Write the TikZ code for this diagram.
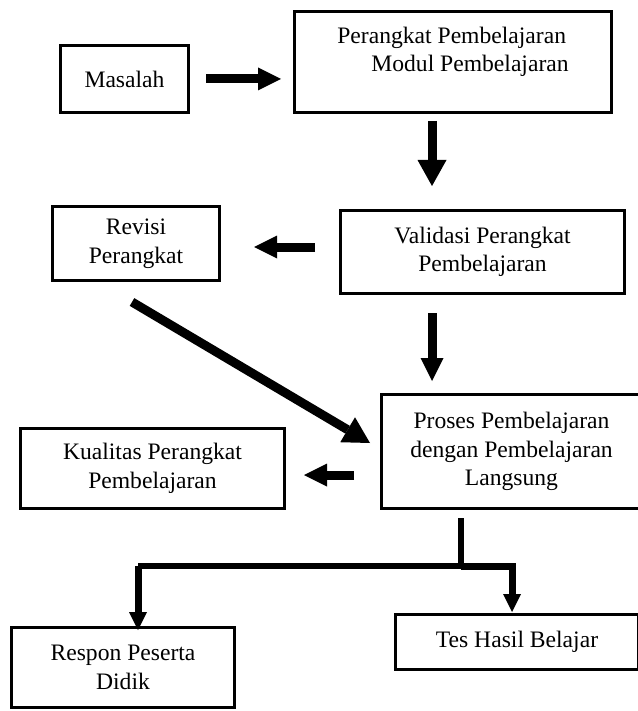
\documentclass[tikz,border=0pt]{standalone}
\usepackage{fontspec}
\setmainfont{Liberation Serif}
\usetikzlibrary{arrows.meta}
\begin{document}
\begin{tikzpicture}[x=1pt,y=-1pt,
  box/.style={draw, line width=3pt, rectangle, inner sep=0pt, align=center,
    font=\fontsize{23.6}{28.5}\selectfont},
  arr/.style={line width=9pt, -{Triangle[length=23pt,width=23pt,line width=0pt]}},
  bigarr/.style={line width=9pt, -{Triangle[length=26pt,width=29pt,line width=0pt]}},
  thinarr/.style={line width=7pt, -{Triangle[length=18pt,width=18pt,line width=0pt]}},
  bar/.style={line width=6.5pt}]
\useasboundingbox (0,0) rectangle (637,711);

\node[box, minimum width=128pt, minimum height=67pt] (masalah) at (124.5,79) {Masalah};
\node[box, minimum width=317pt, minimum height=101pt, align=left] (perangkat) at (453,62)
  {Perangkat Pembelajaran\\\hspace*{34pt}Modul Pembelajaran\rule[-25pt]{0pt}{1pt}};
\node[box, minimum width=167pt, minimum height=74pt] (revisi) at (136,243.5) {Revisi\\Perangkat};
\node[box, minimum width=284pt, minimum height=83pt] (validasi) at (482.5,252) {Validasi Perangkat\\Pembelajaran};
\node[box, minimum width=260pt, minimum height=114pt] (proses) at (511.5,451.5)
  {Proses Pembelajaran\\dengan Pembelajaran\\Langsung};
\node[box, minimum width=264pt, minimum height=80pt] (kualitas) at (152.5,468.5) {Kualitas Perangkat\\Pembelajaran};
\node[box, minimum width=223pt, minimum height=80pt] (respon) at (123,667.5) {Respon Peserta\\Didik};
\node[box, minimum width=243pt, minimum height=55pt] (tes) at (517,642) {Tes Hasil Belajar};

% arrows
\draw[arr, shorten <=16pt, shorten >=12pt] (masalah.east) -- (masalah.east -| perangkat.west);
\draw[bigarr, shorten <=7pt, shorten >=23pt] ([xshift=-21pt]perangkat.south) -- ([xshift=-21pt]perangkat.south |- validasi.north);
\draw[arr, shorten <=24pt, shorten >=33pt] ([yshift=5pt]validasi.west) -- ([yshift=5pt]validasi.west -| revisi.east);
\draw[bigarr] ([xshift=-4pt,yshift=-20pt]revisi.south) -- ([xshift=-10pt,yshift=8.5pt]proses.west);
\draw[arr, shorten <=18pt, shorten >=12pt] ([xshift=-50.5pt]validasi.south) -- ([xshift=-50.5pt]validasi.south |- proses.north);
\draw[arr, shorten <=26pt, shorten >=18pt] ([yshift=-23.5pt]proses.west) -- ([yshift=-23.5pt]proses.west -| kualitas.east);

% branch
\coordinate (j) at (461,566);
\coordinate (jr) at (479,566);
\draw[bar, shorten <=8pt] ([xshift=-50.5pt]proses.south) -- (j);
\draw[bar] (jr) -- ([xshift=15pt]respon.north |- j);
\draw[thinarr, shorten >=-4pt] ([xshift=15pt]respon.north |- j) -- ([xshift=15pt]respon.north);
\draw[thinarr, shorten >=1pt] (j) -| ([xshift=-5pt]tes.north);
\end{tikzpicture}
\end{document}
